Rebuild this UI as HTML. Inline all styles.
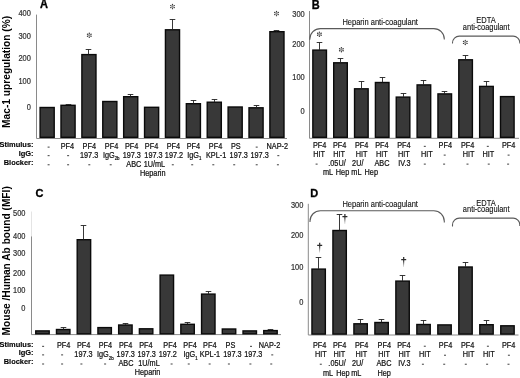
<!DOCTYPE html>
<html><head><meta charset="utf-8"><style>
html,body{margin:0;padding:0;background:#fff;}
body{width:520px;height:378px;overflow:hidden;font-family:"Liberation Sans", sans-serif;}
svg{display:block;filter:grayscale(1);}
</style></head><body>
<svg width="520" height="378" viewBox="0 0 520 378" font-family='"Liberation Sans", sans-serif'>
<defs><linearGradient id="dg" x1="0" y1="0" x2="0" y2="1"><stop offset="0" stop-color="#222"/><stop offset="0.45" stop-color="#333"/><stop offset="1" stop-color="#ccc"/></linearGradient></defs>
<rect width="520" height="378" fill="#fff"/>
<path d="M36.5 14.6V138.5H287" stroke="#8a8a8a" stroke-width="1" fill="none"/>
<path d="M309.5 11V138.3H519" stroke="#8a8a8a" stroke-width="1" fill="none"/>
<path d="M31.5 211.5V236.4" stroke="#e4e4e4" stroke-width="1" fill="none"/>
<path d="M31.5 236.4V334.6H281" stroke="#8a8a8a" stroke-width="1" fill="none"/>
<path d="M308.3 203.8V335H518.5" stroke="#8a8a8a" stroke-width="1" fill="none"/>
<rect x="40.10" y="107.50" width="14.10" height="29.80" fill="#383838" stroke="#0a0a0a" stroke-width="1.4"/>
<rect x="60.99" y="105.30" width="14.10" height="32.00" fill="#383838" stroke="#0a0a0a" stroke-width="1.4"/>
<line x1="68.50" y1="105.10" x2="68.50" y2="104.50" stroke="#222" stroke-width="0.9"/>
<line x1="65.70" y1="104.50" x2="71.30" y2="104.50" stroke="#222" stroke-width="0.9"/>
<rect x="81.88" y="54.60" width="14.10" height="82.70" fill="#383838" stroke="#0a0a0a" stroke-width="1.4"/>
<line x1="88.50" y1="54.40" x2="88.50" y2="49.50" stroke="#222" stroke-width="0.9"/>
<line x1="85.70" y1="49.50" x2="91.30" y2="49.50" stroke="#222" stroke-width="0.9"/>
<rect x="102.77" y="101.50" width="14.10" height="35.80" fill="#383838" stroke="#0a0a0a" stroke-width="1.4"/>
<rect x="123.66" y="96.70" width="14.10" height="40.60" fill="#383838" stroke="#0a0a0a" stroke-width="1.4"/>
<line x1="130.50" y1="96.50" x2="130.50" y2="94.50" stroke="#222" stroke-width="0.9"/>
<line x1="127.70" y1="94.50" x2="133.30" y2="94.50" stroke="#222" stroke-width="0.9"/>
<rect x="144.55" y="107.30" width="14.10" height="30.00" fill="#383838" stroke="#0a0a0a" stroke-width="1.4"/>
<rect x="165.44" y="29.80" width="14.10" height="107.50" fill="#383838" stroke="#0a0a0a" stroke-width="1.4"/>
<line x1="172.50" y1="29.60" x2="172.50" y2="19.50" stroke="#222" stroke-width="0.9"/>
<line x1="169.70" y1="19.50" x2="175.30" y2="19.50" stroke="#222" stroke-width="0.9"/>
<rect x="186.33" y="103.70" width="14.10" height="33.60" fill="#383838" stroke="#0a0a0a" stroke-width="1.4"/>
<line x1="193.50" y1="103.50" x2="193.50" y2="100.50" stroke="#222" stroke-width="0.9"/>
<line x1="190.70" y1="100.50" x2="196.30" y2="100.50" stroke="#222" stroke-width="0.9"/>
<rect x="207.22" y="102.20" width="14.10" height="35.10" fill="#383838" stroke="#0a0a0a" stroke-width="1.4"/>
<line x1="214.50" y1="102.00" x2="214.50" y2="99.50" stroke="#222" stroke-width="0.9"/>
<line x1="211.70" y1="99.50" x2="217.30" y2="99.50" stroke="#222" stroke-width="0.9"/>
<rect x="228.11" y="107.00" width="14.10" height="30.30" fill="#383838" stroke="#0a0a0a" stroke-width="1.4"/>
<rect x="249.00" y="107.80" width="14.10" height="29.50" fill="#383838" stroke="#0a0a0a" stroke-width="1.4"/>
<line x1="256.50" y1="107.60" x2="256.50" y2="105.50" stroke="#222" stroke-width="0.9"/>
<line x1="253.70" y1="105.50" x2="259.30" y2="105.50" stroke="#222" stroke-width="0.9"/>
<rect x="269.89" y="31.70" width="14.10" height="105.60" fill="#383838" stroke="#0a0a0a" stroke-width="1.4"/>
<line x1="276.50" y1="31.50" x2="276.50" y2="30.50" stroke="#222" stroke-width="0.9"/>
<line x1="273.70" y1="30.50" x2="279.30" y2="30.50" stroke="#222" stroke-width="0.9"/>
<rect x="312.85" y="50.10" width="13.60" height="87.20" fill="#383838" stroke="#0a0a0a" stroke-width="1.4"/>
<line x1="319.50" y1="49.90" x2="319.50" y2="42.50" stroke="#222" stroke-width="0.9"/>
<line x1="316.70" y1="42.50" x2="322.30" y2="42.50" stroke="#222" stroke-width="0.9"/>
<rect x="333.70" y="62.80" width="13.60" height="74.50" fill="#383838" stroke="#0a0a0a" stroke-width="1.4"/>
<line x1="340.50" y1="62.60" x2="340.50" y2="58.50" stroke="#222" stroke-width="0.9"/>
<line x1="337.70" y1="58.50" x2="343.30" y2="58.50" stroke="#222" stroke-width="0.9"/>
<rect x="354.55" y="88.80" width="13.60" height="48.50" fill="#383838" stroke="#0a0a0a" stroke-width="1.4"/>
<line x1="361.50" y1="88.60" x2="361.50" y2="81.50" stroke="#222" stroke-width="0.9"/>
<line x1="358.70" y1="81.50" x2="364.30" y2="81.50" stroke="#222" stroke-width="0.9"/>
<rect x="375.40" y="82.50" width="13.60" height="54.80" fill="#383838" stroke="#0a0a0a" stroke-width="1.4"/>
<line x1="382.50" y1="82.30" x2="382.50" y2="77.50" stroke="#222" stroke-width="0.9"/>
<line x1="379.70" y1="77.50" x2="385.30" y2="77.50" stroke="#222" stroke-width="0.9"/>
<rect x="396.25" y="97.10" width="13.60" height="40.20" fill="#383838" stroke="#0a0a0a" stroke-width="1.4"/>
<line x1="403.50" y1="96.90" x2="403.50" y2="93.50" stroke="#222" stroke-width="0.9"/>
<line x1="400.70" y1="93.50" x2="406.30" y2="93.50" stroke="#222" stroke-width="0.9"/>
<rect x="417.10" y="84.90" width="13.60" height="52.40" fill="#383838" stroke="#0a0a0a" stroke-width="1.4"/>
<line x1="423.50" y1="84.70" x2="423.50" y2="80.50" stroke="#222" stroke-width="0.9"/>
<line x1="420.70" y1="80.50" x2="426.30" y2="80.50" stroke="#222" stroke-width="0.9"/>
<rect x="437.95" y="93.90" width="13.60" height="43.40" fill="#383838" stroke="#0a0a0a" stroke-width="1.4"/>
<line x1="444.50" y1="93.70" x2="444.50" y2="91.50" stroke="#222" stroke-width="0.9"/>
<line x1="441.70" y1="91.50" x2="447.30" y2="91.50" stroke="#222" stroke-width="0.9"/>
<rect x="458.80" y="59.80" width="13.60" height="77.50" fill="#383838" stroke="#0a0a0a" stroke-width="1.4"/>
<line x1="465.50" y1="59.60" x2="465.50" y2="55.50" stroke="#222" stroke-width="0.9"/>
<line x1="462.70" y1="55.50" x2="468.30" y2="55.50" stroke="#222" stroke-width="0.9"/>
<rect x="479.65" y="86.40" width="13.60" height="50.90" fill="#383838" stroke="#0a0a0a" stroke-width="1.4"/>
<line x1="486.50" y1="86.20" x2="486.50" y2="81.50" stroke="#222" stroke-width="0.9"/>
<line x1="483.70" y1="81.50" x2="489.30" y2="81.50" stroke="#222" stroke-width="0.9"/>
<rect x="500.50" y="96.60" width="13.60" height="40.70" fill="#383838" stroke="#0a0a0a" stroke-width="1.4"/>
<rect x="35.75" y="330.90" width="13.45" height="2.90" fill="#383838" stroke="#0a0a0a" stroke-width="1.4"/>
<rect x="56.48" y="329.50" width="13.45" height="4.30" fill="#383838" stroke="#0a0a0a" stroke-width="1.4"/>
<line x1="63.50" y1="329.30" x2="63.50" y2="327.50" stroke="#222" stroke-width="0.9"/>
<line x1="60.70" y1="327.50" x2="66.30" y2="327.50" stroke="#222" stroke-width="0.9"/>
<rect x="77.20" y="239.70" width="13.45" height="94.10" fill="#383838" stroke="#0a0a0a" stroke-width="1.4"/>
<line x1="83.50" y1="239.50" x2="83.50" y2="225.50" stroke="#222" stroke-width="0.9"/>
<line x1="80.70" y1="225.50" x2="86.30" y2="225.50" stroke="#222" stroke-width="0.9"/>
<rect x="97.93" y="327.60" width="13.45" height="6.20" fill="#383838" stroke="#0a0a0a" stroke-width="1.4"/>
<rect x="118.66" y="325.00" width="13.45" height="8.80" fill="#383838" stroke="#0a0a0a" stroke-width="1.4"/>
<line x1="125.50" y1="324.80" x2="125.50" y2="323.50" stroke="#222" stroke-width="0.9"/>
<line x1="122.70" y1="323.50" x2="128.30" y2="323.50" stroke="#222" stroke-width="0.9"/>
<rect x="139.38" y="328.80" width="13.45" height="5.00" fill="#383838" stroke="#0a0a0a" stroke-width="1.4"/>
<rect x="160.11" y="275.10" width="13.45" height="58.70" fill="#383838" stroke="#0a0a0a" stroke-width="1.4"/>
<rect x="180.84" y="324.30" width="13.45" height="9.50" fill="#383838" stroke="#0a0a0a" stroke-width="1.4"/>
<line x1="187.50" y1="324.10" x2="187.50" y2="322.50" stroke="#222" stroke-width="0.9"/>
<line x1="184.70" y1="322.50" x2="190.30" y2="322.50" stroke="#222" stroke-width="0.9"/>
<rect x="201.57" y="294.10" width="13.45" height="39.70" fill="#383838" stroke="#0a0a0a" stroke-width="1.4"/>
<line x1="208.50" y1="293.90" x2="208.50" y2="291.50" stroke="#222" stroke-width="0.9"/>
<line x1="205.70" y1="291.50" x2="211.30" y2="291.50" stroke="#222" stroke-width="0.9"/>
<rect x="222.29" y="329.00" width="13.45" height="4.80" fill="#383838" stroke="#0a0a0a" stroke-width="1.4"/>
<rect x="243.02" y="330.90" width="13.45" height="2.90" fill="#383838" stroke="#0a0a0a" stroke-width="1.4"/>
<rect x="263.75" y="330.60" width="13.45" height="3.20" fill="#383838" stroke="#0a0a0a" stroke-width="1.4"/>
<line x1="270.50" y1="330.40" x2="270.50" y2="329.50" stroke="#222" stroke-width="0.9"/>
<line x1="267.70" y1="329.50" x2="273.30" y2="329.50" stroke="#222" stroke-width="0.9"/>
<rect x="311.95" y="269.10" width="13.40" height="65.00" fill="#383838" stroke="#0a0a0a" stroke-width="1.4"/>
<line x1="318.50" y1="268.90" x2="318.50" y2="257.50" stroke="#222" stroke-width="0.9"/>
<line x1="315.70" y1="257.50" x2="321.30" y2="257.50" stroke="#222" stroke-width="0.9"/>
<rect x="332.93" y="230.50" width="13.40" height="103.60" fill="#383838" stroke="#0a0a0a" stroke-width="1.4"/>
<line x1="339.50" y1="230.30" x2="339.50" y2="214.50" stroke="#222" stroke-width="0.9"/>
<line x1="336.70" y1="214.50" x2="342.30" y2="214.50" stroke="#222" stroke-width="0.9"/>
<rect x="353.91" y="323.80" width="13.40" height="10.30" fill="#383838" stroke="#0a0a0a" stroke-width="1.4"/>
<line x1="360.50" y1="323.60" x2="360.50" y2="319.50" stroke="#222" stroke-width="0.9"/>
<line x1="357.70" y1="319.50" x2="363.30" y2="319.50" stroke="#222" stroke-width="0.9"/>
<rect x="374.89" y="322.50" width="13.40" height="11.60" fill="#383838" stroke="#0a0a0a" stroke-width="1.4"/>
<line x1="381.50" y1="322.30" x2="381.50" y2="319.50" stroke="#222" stroke-width="0.9"/>
<line x1="378.70" y1="319.50" x2="384.30" y2="319.50" stroke="#222" stroke-width="0.9"/>
<rect x="395.87" y="281.10" width="13.40" height="53.00" fill="#383838" stroke="#0a0a0a" stroke-width="1.4"/>
<line x1="402.50" y1="280.90" x2="402.50" y2="275.50" stroke="#222" stroke-width="0.9"/>
<line x1="399.70" y1="275.50" x2="405.30" y2="275.50" stroke="#222" stroke-width="0.9"/>
<rect x="416.85" y="324.50" width="13.40" height="9.60" fill="#383838" stroke="#0a0a0a" stroke-width="1.4"/>
<line x1="423.50" y1="324.30" x2="423.50" y2="320.50" stroke="#222" stroke-width="0.9"/>
<line x1="420.70" y1="320.50" x2="426.30" y2="320.50" stroke="#222" stroke-width="0.9"/>
<rect x="437.83" y="324.90" width="13.40" height="9.20" fill="#383838" stroke="#0a0a0a" stroke-width="1.4"/>
<rect x="458.81" y="267.00" width="13.40" height="67.10" fill="#383838" stroke="#0a0a0a" stroke-width="1.4"/>
<line x1="465.50" y1="266.80" x2="465.50" y2="262.50" stroke="#222" stroke-width="0.9"/>
<line x1="462.70" y1="262.50" x2="468.30" y2="262.50" stroke="#222" stroke-width="0.9"/>
<rect x="479.79" y="324.70" width="13.40" height="9.40" fill="#383838" stroke="#0a0a0a" stroke-width="1.4"/>
<line x1="486.50" y1="324.50" x2="486.50" y2="320.50" stroke="#222" stroke-width="0.9"/>
<line x1="483.70" y1="320.50" x2="489.30" y2="320.50" stroke="#222" stroke-width="0.9"/>
<rect x="500.77" y="325.80" width="13.40" height="8.30" fill="#383838" stroke="#0a0a0a" stroke-width="1.4"/>
<text transform="translate(40.00 8.30) scale(1 1.08)" font-size="11" text-anchor="start" font-weight="bold" fill="#000" stroke="#000" stroke-width="0.3" >A</text>
<text transform="translate(311.70 8.50) scale(1 1.08)" font-size="11" text-anchor="start" font-weight="bold" fill="#000" stroke="#000" stroke-width="0.3" >B</text>
<text transform="translate(35.60 197.20) scale(1 1.0)" font-size="11" text-anchor="start" font-weight="bold" fill="#000" stroke="#000" stroke-width="0.3" >C</text>
<text transform="translate(310.30 197.10) scale(1 1.0)" font-size="11" text-anchor="start" font-weight="bold" fill="#000" stroke="#000" stroke-width="0.3" >D</text>
<text transform="translate(30.80 15.70) scale(1 1.12)" font-size="7.45" text-anchor="end" font-weight="normal" fill="#333" stroke="#333" stroke-width="0.2" >400</text>
<text transform="translate(30.80 38.60) scale(1 1.12)" font-size="7.45" text-anchor="end" font-weight="normal" fill="#333" stroke="#333" stroke-width="0.2" >300</text>
<text transform="translate(30.80 61.10) scale(1 1.12)" font-size="7.45" text-anchor="end" font-weight="normal" fill="#333" stroke="#333" stroke-width="0.2" >200</text>
<text transform="translate(30.80 83.90) scale(1 1.12)" font-size="7.45" text-anchor="end" font-weight="normal" fill="#333" stroke="#333" stroke-width="0.2" >100</text>
<text transform="translate(30.80 110.00) scale(1 1.12)" font-size="7.45" text-anchor="end" font-weight="normal" fill="#333" stroke="#333" stroke-width="0.2" >0</text>
<text transform="translate(304.70 17.40) scale(1 1.12)" font-size="7.45" text-anchor="end" font-weight="normal" fill="#333" stroke="#333" stroke-width="0.2" >300</text>
<text transform="translate(304.70 47.20) scale(1 1.12)" font-size="7.45" text-anchor="end" font-weight="normal" fill="#333" stroke="#333" stroke-width="0.2" >200</text>
<text transform="translate(304.70 79.70) scale(1 1.12)" font-size="7.45" text-anchor="end" font-weight="normal" fill="#333" stroke="#333" stroke-width="0.2" >100</text>
<text transform="translate(304.70 113.80) scale(1 1.12)" font-size="7.45" text-anchor="end" font-weight="normal" fill="#333" stroke="#333" stroke-width="0.2" >0</text>
<text transform="translate(25.50 215.90) scale(1 1.12)" font-size="7.45" text-anchor="end" font-weight="normal" fill="#333" stroke="#333" stroke-width="0.2" >500</text>
<text transform="translate(25.50 239.00) scale(1 1.12)" font-size="7.45" text-anchor="end" font-weight="normal" fill="#333" stroke="#333" stroke-width="0.2" >400</text>
<text transform="translate(25.50 255.50) scale(1 1.12)" font-size="7.45" text-anchor="end" font-weight="normal" fill="#333" stroke="#333" stroke-width="0.2" >300</text>
<text transform="translate(25.50 275.70) scale(1 1.12)" font-size="7.45" text-anchor="end" font-weight="normal" fill="#333" stroke="#333" stroke-width="0.2" >200</text>
<text transform="translate(25.50 292.70) scale(1 1.12)" font-size="7.45" text-anchor="end" font-weight="normal" fill="#333" stroke="#333" stroke-width="0.2" >100</text>
<text transform="translate(25.50 311.20) scale(1 1.12)" font-size="7.45" text-anchor="end" font-weight="normal" fill="#333" stroke="#333" stroke-width="0.2" >0</text>
<text transform="translate(303.30 208.10) scale(1 1.12)" font-size="7.45" text-anchor="end" font-weight="normal" fill="#333" stroke="#333" stroke-width="0.2" >300</text>
<text transform="translate(303.30 238.40) scale(1 1.12)" font-size="7.45" text-anchor="end" font-weight="normal" fill="#333" stroke="#333" stroke-width="0.2" >200</text>
<text transform="translate(303.30 270.30) scale(1 1.12)" font-size="7.45" text-anchor="end" font-weight="normal" fill="#333" stroke="#333" stroke-width="0.2" >100</text>
<text transform="translate(303.30 304.50) scale(1 1.12)" font-size="7.45" text-anchor="end" font-weight="normal" fill="#333" stroke="#333" stroke-width="0.2" >0</text>
<text transform="translate(9.7 71.85) rotate(-90) scale(1 1.08)" font-size="10.2" font-weight="bold" text-anchor="middle" fill="#000">Mac-1 upregulation (%)</text>
<text transform="translate(9.9 260.85) rotate(-90) scale(1 1.08)" font-size="10.17" font-weight="bold" text-anchor="middle" fill="#000">Mouse /Human Ab bound (MFI)</text>
<text transform="translate(33.50 147.40) scale(1 1.0)" font-size="7.44" text-anchor="end" font-weight="bold" fill="#000" stroke="#000" stroke-width="0.12" >Stimulus:</text>
<text transform="translate(33.50 156.30) scale(1 1.0)" font-size="7.44" text-anchor="end" font-weight="bold" fill="#000" stroke="#000" stroke-width="0.12" >IgG:</text>
<text transform="translate(33.50 165.30) scale(1 1.0)" font-size="7.44" text-anchor="end" font-weight="bold" fill="#000" stroke="#000" stroke-width="0.12" >Blocker:</text>
<text transform="translate(33.50 346.50) scale(1 1.0)" font-size="7.44" text-anchor="end" font-weight="bold" fill="#000" stroke="#000" stroke-width="0.12" >Stimulus:</text>
<text transform="translate(33.50 355.40) scale(1 1.0)" font-size="7.44" text-anchor="end" font-weight="bold" fill="#000" stroke="#000" stroke-width="0.12" >IgG:</text>
<text transform="translate(33.50 364.40) scale(1 1.0)" font-size="7.44" text-anchor="end" font-weight="bold" fill="#000" stroke="#000" stroke-width="0.12" >Blocker:</text>
<rect x="47.60" y="146.65" width="2.0" height="0.9" fill="#2a2a2a"/>
<text transform="translate(67.40 148.90) scale(1 1.12)" font-size="7.3" text-anchor="middle" font-weight="normal" fill="#111" stroke="#111" stroke-width="0.2" >PF4</text>
<text transform="translate(89.25 148.90) scale(1 1.12)" font-size="7.3" text-anchor="middle" font-weight="normal" fill="#111" stroke="#111" stroke-width="0.2" >PF4</text>
<text transform="translate(111.50 148.90) scale(1 1.12)" font-size="7.3" text-anchor="middle" font-weight="normal" fill="#111" stroke="#111" stroke-width="0.2" >PF4</text>
<text transform="translate(131.60 148.90) scale(1 1.12)" font-size="7.3" text-anchor="middle" font-weight="normal" fill="#111" stroke="#111" stroke-width="0.2" >PF4</text>
<text transform="translate(151.50 148.90) scale(1 1.12)" font-size="7.3" text-anchor="middle" font-weight="normal" fill="#111" stroke="#111" stroke-width="0.2" >PF4</text>
<text transform="translate(173.40 148.90) scale(1 1.12)" font-size="7.3" text-anchor="middle" font-weight="normal" fill="#111" stroke="#111" stroke-width="0.2" >PF4</text>
<text transform="translate(193.40 148.90) scale(1 1.12)" font-size="7.3" text-anchor="middle" font-weight="normal" fill="#111" stroke="#111" stroke-width="0.2" >PF4</text>
<text transform="translate(215.50 148.90) scale(1 1.12)" font-size="7.3" text-anchor="middle" font-weight="normal" fill="#111" stroke="#111" stroke-width="0.2" >PF4</text>
<text transform="translate(235.80 148.90) scale(1 1.12)" font-size="7.3" text-anchor="middle" font-weight="normal" fill="#111" stroke="#111" stroke-width="0.2" >PS</text>
<rect x="255.70" y="146.65" width="2.0" height="0.9" fill="#2a2a2a"/>
<text transform="translate(277.30 148.90) scale(1 1.12)" font-size="7.3" text-anchor="middle" font-weight="normal" fill="#111" stroke="#111" stroke-width="0.2" >NAP-2</text>
<rect x="47.60" y="155.25" width="2.0" height="0.9" fill="#2a2a2a"/>
<rect x="67.10" y="155.25" width="2.0" height="0.9" fill="#2a2a2a"/>
<text transform="translate(89.10 157.50) scale(1 1.12)" font-size="7.3" text-anchor="middle" font-weight="normal" fill="#111" stroke="#111" stroke-width="0.2" >197.3</text>
<text transform="translate(131.80 157.50) scale(1 1.12)" font-size="7.3" text-anchor="middle" font-weight="normal" fill="#111" stroke="#111" stroke-width="0.2" >197.3</text>
<text transform="translate(153.50 157.50) scale(1 1.12)" font-size="7.3" text-anchor="middle" font-weight="normal" fill="#111" stroke="#111" stroke-width="0.2" >197.3</text>
<text transform="translate(174.00 157.50) scale(1 1.12)" font-size="7.3" text-anchor="middle" font-weight="normal" fill="#111" stroke="#111" stroke-width="0.2" >197.2</text>
<text transform="translate(216.10 157.50) scale(1 1.12)" font-size="7.3" text-anchor="middle" font-weight="normal" fill="#111" stroke="#111" stroke-width="0.2" >KPL-1</text>
<text transform="translate(238.75 157.50) scale(1 1.12)" font-size="7.3" text-anchor="middle" font-weight="normal" fill="#111" stroke="#111" stroke-width="0.2" >197.3</text>
<text transform="translate(259.60 157.50) scale(1 1.12)" font-size="7.3" text-anchor="middle" font-weight="normal" fill="#111" stroke="#111" stroke-width="0.2" >197.3</text>
<rect x="277.30" y="155.25" width="2.0" height="0.9" fill="#2a2a2a"/>
<rect x="47.60" y="164.35" width="2.0" height="0.9" fill="#2a2a2a"/>
<rect x="67.10" y="164.35" width="2.0" height="0.9" fill="#2a2a2a"/>
<rect x="88.30" y="164.35" width="2.0" height="0.9" fill="#2a2a2a"/>
<rect x="109.70" y="164.35" width="2.0" height="0.9" fill="#2a2a2a"/>
<text transform="translate(133.80 166.60) scale(1 1.12)" font-size="7.3" text-anchor="middle" font-weight="normal" fill="#111" stroke="#111" stroke-width="0.2" >ABC</text>
<text transform="translate(154.40 166.60) scale(1 1.12)" font-size="7.3" text-anchor="middle" font-weight="normal" fill="#111" stroke="#111" stroke-width="0.2" >1U/mL</text>
<rect x="171.80" y="164.35" width="2.0" height="0.9" fill="#2a2a2a"/>
<rect x="191.20" y="164.35" width="2.0" height="0.9" fill="#2a2a2a"/>
<rect x="212.30" y="164.35" width="2.0" height="0.9" fill="#2a2a2a"/>
<rect x="233.20" y="164.35" width="2.0" height="0.9" fill="#2a2a2a"/>
<rect x="255.70" y="164.35" width="2.0" height="0.9" fill="#2a2a2a"/>
<rect x="276.90" y="164.35" width="2.0" height="0.9" fill="#2a2a2a"/>
<text transform="translate(102.90 157.50) scale(1 1.12)" font-size="7.3" text-anchor="start" font-weight="normal" fill="#111" stroke="#111" stroke-width="0.2" >IgG<tspan font-size="4.4" dy="2.5">2b</tspan></text>
<text transform="translate(187.25 157.50) scale(1 1.12)" font-size="7.3" text-anchor="start" font-weight="normal" fill="#111" stroke="#111" stroke-width="0.2" >IgG<tspan font-size="4.3" dy="2.5">1</tspan></text>
<text transform="translate(152.70 175.70) scale(1 1.12)" font-size="7.3" text-anchor="middle" font-weight="normal" fill="#111" stroke="#111" stroke-width="0.2" >Heparin</text>
<rect x="42.10" y="345.85" width="2.0" height="0.9" fill="#2a2a2a"/>
<text transform="translate(63.70 348.10) scale(1 1.12)" font-size="7.3" text-anchor="middle" font-weight="normal" fill="#111" stroke="#111" stroke-width="0.2" >PF4</text>
<text transform="translate(83.70 348.10) scale(1 1.12)" font-size="7.3" text-anchor="middle" font-weight="normal" fill="#111" stroke="#111" stroke-width="0.2" >PF4</text>
<text transform="translate(105.40 348.10) scale(1 1.12)" font-size="7.3" text-anchor="middle" font-weight="normal" fill="#111" stroke="#111" stroke-width="0.2" >PF4</text>
<text transform="translate(125.60 348.10) scale(1 1.12)" font-size="7.3" text-anchor="middle" font-weight="normal" fill="#111" stroke="#111" stroke-width="0.2" >PF4</text>
<text transform="translate(145.90 348.10) scale(1 1.12)" font-size="7.3" text-anchor="middle" font-weight="normal" fill="#111" stroke="#111" stroke-width="0.2" >PF4</text>
<text transform="translate(170.00 348.10) scale(1 1.12)" font-size="7.3" text-anchor="middle" font-weight="normal" fill="#111" stroke="#111" stroke-width="0.2" >PF4</text>
<text transform="translate(190.00 348.10) scale(1 1.12)" font-size="7.3" text-anchor="middle" font-weight="normal" fill="#111" stroke="#111" stroke-width="0.2" >PF4</text>
<text transform="translate(209.80 348.10) scale(1 1.12)" font-size="7.3" text-anchor="middle" font-weight="normal" fill="#111" stroke="#111" stroke-width="0.2" >PF4</text>
<text transform="translate(230.40 348.10) scale(1 1.12)" font-size="7.3" text-anchor="middle" font-weight="normal" fill="#111" stroke="#111" stroke-width="0.2" >PS</text>
<rect x="250.00" y="345.85" width="2.0" height="0.9" fill="#2a2a2a"/>
<text transform="translate(269.50 348.10) scale(1 1.12)" font-size="7.3" text-anchor="middle" font-weight="normal" fill="#111" stroke="#111" stroke-width="0.2" >NAP-2</text>
<rect x="42.10" y="354.45" width="2.0" height="0.9" fill="#2a2a2a"/>
<rect x="61.10" y="354.45" width="2.0" height="0.9" fill="#2a2a2a"/>
<text transform="translate(83.50 356.70) scale(1 1.12)" font-size="7.3" text-anchor="middle" font-weight="normal" fill="#111" stroke="#111" stroke-width="0.2" >197.3</text>
<text transform="translate(125.75 356.70) scale(1 1.12)" font-size="7.3" text-anchor="middle" font-weight="normal" fill="#111" stroke="#111" stroke-width="0.2" >197.3</text>
<text transform="translate(146.70 356.70) scale(1 1.12)" font-size="7.3" text-anchor="middle" font-weight="normal" fill="#111" stroke="#111" stroke-width="0.2" >197.3</text>
<text transform="translate(167.80 356.70) scale(1 1.12)" font-size="7.3" text-anchor="middle" font-weight="normal" fill="#111" stroke="#111" stroke-width="0.2" >197.2</text>
<text transform="translate(210.00 356.70) scale(1 1.12)" font-size="7.3" text-anchor="middle" font-weight="normal" fill="#111" stroke="#111" stroke-width="0.2" >KPL-1</text>
<text transform="translate(232.40 356.70) scale(1 1.12)" font-size="7.3" text-anchor="middle" font-weight="normal" fill="#111" stroke="#111" stroke-width="0.2" >197.3</text>
<text transform="translate(253.30 356.70) scale(1 1.12)" font-size="7.3" text-anchor="middle" font-weight="normal" fill="#111" stroke="#111" stroke-width="0.2" >197.3</text>
<rect x="271.25" y="354.45" width="2.0" height="0.9" fill="#2a2a2a"/>
<rect x="42.10" y="363.55" width="2.0" height="0.9" fill="#2a2a2a"/>
<rect x="61.10" y="363.55" width="2.0" height="0.9" fill="#2a2a2a"/>
<rect x="80.40" y="363.55" width="2.0" height="0.9" fill="#2a2a2a"/>
<rect x="104.10" y="363.55" width="2.0" height="0.9" fill="#2a2a2a"/>
<text transform="translate(125.90 365.80) scale(1 1.12)" font-size="7.3" text-anchor="middle" font-weight="normal" fill="#111" stroke="#111" stroke-width="0.2" >ABC</text>
<text transform="translate(149.00 365.80) scale(1 1.12)" font-size="7.3" text-anchor="middle" font-weight="normal" fill="#111" stroke="#111" stroke-width="0.2" >1U/mL</text>
<rect x="170.60" y="363.55" width="2.0" height="0.9" fill="#2a2a2a"/>
<rect x="187.75" y="363.55" width="2.0" height="0.9" fill="#2a2a2a"/>
<rect x="208.65" y="363.55" width="2.0" height="0.9" fill="#2a2a2a"/>
<rect x="227.90" y="363.55" width="2.0" height="0.9" fill="#2a2a2a"/>
<rect x="249.40" y="363.55" width="2.0" height="0.9" fill="#2a2a2a"/>
<rect x="270.25" y="363.55" width="2.0" height="0.9" fill="#2a2a2a"/>
<text transform="translate(97.00 356.70) scale(1 1.12)" font-size="7.3" text-anchor="start" font-weight="normal" fill="#111" stroke="#111" stroke-width="0.2" >IgG<tspan font-size="4.4" dy="2.5">2b</tspan></text>
<text transform="translate(183.50 356.70) scale(1 1.12)" font-size="7.3" text-anchor="start" font-weight="normal" fill="#111" stroke="#111" stroke-width="0.2" >IgG<tspan font-size="4.3" dy="2.5">1</tspan></text>
<text transform="translate(147.55 375.00) scale(1 1.12)" font-size="7.3" text-anchor="middle" font-weight="normal" fill="#111" stroke="#111" stroke-width="0.2" >Heparin</text>
<text transform="translate(319.60 148.10) scale(1 1.12)" font-size="7.3" text-anchor="middle" font-weight="normal" fill="#111" stroke="#111" stroke-width="0.2" >PF4</text>
<text transform="translate(339.60 148.10) scale(1 1.12)" font-size="7.3" text-anchor="middle" font-weight="normal" fill="#111" stroke="#111" stroke-width="0.2" >PF4</text>
<text transform="translate(361.60 148.10) scale(1 1.12)" font-size="7.3" text-anchor="middle" font-weight="normal" fill="#111" stroke="#111" stroke-width="0.2" >PF4</text>
<text transform="translate(381.90 148.10) scale(1 1.12)" font-size="7.3" text-anchor="middle" font-weight="normal" fill="#111" stroke="#111" stroke-width="0.2" >PF4</text>
<text transform="translate(403.90 148.10) scale(1 1.12)" font-size="7.3" text-anchor="middle" font-weight="normal" fill="#111" stroke="#111" stroke-width="0.2" >PF4</text>
<rect x="423.80" y="145.85" width="2.0" height="0.9" fill="#2a2a2a"/>
<text transform="translate(445.30 148.10) scale(1 1.12)" font-size="7.3" text-anchor="middle" font-weight="normal" fill="#111" stroke="#111" stroke-width="0.2" >PF4</text>
<text transform="translate(467.60 148.10) scale(1 1.12)" font-size="7.3" text-anchor="middle" font-weight="normal" fill="#111" stroke="#111" stroke-width="0.2" >PF4</text>
<rect x="486.80" y="145.85" width="2.0" height="0.9" fill="#2a2a2a"/>
<text transform="translate(508.60 148.10) scale(1 1.12)" font-size="7.3" text-anchor="middle" font-weight="normal" fill="#111" stroke="#111" stroke-width="0.2" >PF4</text>
<text transform="translate(319.10 156.90) scale(1 1.12)" font-size="7.3" text-anchor="middle" font-weight="normal" fill="#111" stroke="#111" stroke-width="0.2" >HIT</text>
<text transform="translate(339.10 156.90) scale(1 1.12)" font-size="7.3" text-anchor="middle" font-weight="normal" fill="#111" stroke="#111" stroke-width="0.2" >HIT</text>
<text transform="translate(361.50 156.90) scale(1 1.12)" font-size="7.3" text-anchor="middle" font-weight="normal" fill="#111" stroke="#111" stroke-width="0.2" >HIT</text>
<text transform="translate(381.75 156.90) scale(1 1.12)" font-size="7.3" text-anchor="middle" font-weight="normal" fill="#111" stroke="#111" stroke-width="0.2" >HIT</text>
<text transform="translate(403.90 156.90) scale(1 1.12)" font-size="7.3" text-anchor="middle" font-weight="normal" fill="#111" stroke="#111" stroke-width="0.2" >HIT</text>
<text transform="translate(426.75 156.90) scale(1 1.12)" font-size="7.3" text-anchor="middle" font-weight="normal" fill="#111" stroke="#111" stroke-width="0.2" >HIT</text>
<rect x="443.70" y="154.65" width="2.0" height="0.9" fill="#2a2a2a"/>
<text transform="translate(468.50 156.90) scale(1 1.12)" font-size="7.3" text-anchor="middle" font-weight="normal" fill="#111" stroke="#111" stroke-width="0.2" >HIT</text>
<text transform="translate(488.40 156.90) scale(1 1.12)" font-size="7.3" text-anchor="middle" font-weight="normal" fill="#111" stroke="#111" stroke-width="0.2" >HIT</text>
<rect x="507.60" y="154.65" width="2.0" height="0.9" fill="#2a2a2a"/>
<rect x="315.60" y="163.65" width="2.0" height="0.9" fill="#2a2a2a"/>
<text transform="translate(337.00 165.90) scale(1 1.12)" font-size="7.3" text-anchor="middle" font-weight="normal" fill="#111" stroke="#111" stroke-width="0.2" >.05U/</text>
<text transform="translate(357.75 165.90) scale(1 1.12)" font-size="7.3" text-anchor="middle" font-weight="normal" fill="#111" stroke="#111" stroke-width="0.2" >2U/</text>
<text transform="translate(381.90 165.90) scale(1 1.12)" font-size="7.3" text-anchor="middle" font-weight="normal" fill="#111" stroke="#111" stroke-width="0.2" >ABC</text>
<text transform="translate(404.40 165.90) scale(1 1.12)" font-size="7.3" text-anchor="middle" font-weight="normal" fill="#111" stroke="#111" stroke-width="0.2" >IV.3</text>
<rect x="423.80" y="163.65" width="2.0" height="0.9" fill="#2a2a2a"/>
<rect x="443.10" y="163.65" width="2.0" height="0.9" fill="#2a2a2a"/>
<rect x="466.50" y="163.65" width="2.0" height="0.9" fill="#2a2a2a"/>
<rect x="487.75" y="163.65" width="2.0" height="0.9" fill="#2a2a2a"/>
<rect x="507.10" y="163.65" width="2.0" height="0.9" fill="#2a2a2a"/>
<text transform="translate(322.90 175.10) scale(1 1.12)" font-size="7.3" text-anchor="start" font-weight="normal" fill="#111" stroke="#111" stroke-width="0.2" >mL</text>
<text transform="translate(335.80 175.10) scale(1 1.12)" font-size="7.3" text-anchor="start" font-weight="normal" fill="#111" stroke="#111" stroke-width="0.2" >Hep</text>
<text transform="translate(351.30 175.10) scale(1 1.12)" font-size="7.3" text-anchor="start" font-weight="normal" fill="#111" stroke="#111" stroke-width="0.2" >mL</text>
<text transform="translate(364.60 175.10) scale(1 1.12)" font-size="7.3" text-anchor="start" font-weight="normal" fill="#111" stroke="#111" stroke-width="0.2" >Hep</text>
<text transform="translate(319.60 348.00) scale(1 1.12)" font-size="7.3" text-anchor="middle" font-weight="normal" fill="#111" stroke="#111" stroke-width="0.2" >PF4</text>
<text transform="translate(339.60 348.00) scale(1 1.12)" font-size="7.3" text-anchor="middle" font-weight="normal" fill="#111" stroke="#111" stroke-width="0.2" >PF4</text>
<text transform="translate(361.60 348.00) scale(1 1.12)" font-size="7.3" text-anchor="middle" font-weight="normal" fill="#111" stroke="#111" stroke-width="0.2" >PF4</text>
<text transform="translate(384.25 348.00) scale(1 1.12)" font-size="7.3" text-anchor="middle" font-weight="normal" fill="#111" stroke="#111" stroke-width="0.2" >PF4</text>
<text transform="translate(403.90 348.00) scale(1 1.12)" font-size="7.3" text-anchor="middle" font-weight="normal" fill="#111" stroke="#111" stroke-width="0.2" >PF4</text>
<rect x="423.80" y="345.75" width="2.0" height="0.9" fill="#2a2a2a"/>
<text transform="translate(445.50 348.00) scale(1 1.12)" font-size="7.3" text-anchor="middle" font-weight="normal" fill="#111" stroke="#111" stroke-width="0.2" >PF4</text>
<text transform="translate(467.60 348.00) scale(1 1.12)" font-size="7.3" text-anchor="middle" font-weight="normal" fill="#111" stroke="#111" stroke-width="0.2" >PF4</text>
<rect x="486.90" y="345.75" width="2.0" height="0.9" fill="#2a2a2a"/>
<text transform="translate(508.60 348.00) scale(1 1.12)" font-size="7.3" text-anchor="middle" font-weight="normal" fill="#111" stroke="#111" stroke-width="0.2" >PF4</text>
<text transform="translate(320.80 357.00) scale(1 1.12)" font-size="7.3" text-anchor="middle" font-weight="normal" fill="#111" stroke="#111" stroke-width="0.2" >HIT</text>
<text transform="translate(339.25 357.00) scale(1 1.12)" font-size="7.3" text-anchor="middle" font-weight="normal" fill="#111" stroke="#111" stroke-width="0.2" >HIT</text>
<text transform="translate(361.40 357.00) scale(1 1.12)" font-size="7.3" text-anchor="middle" font-weight="normal" fill="#111" stroke="#111" stroke-width="0.2" >HIT</text>
<text transform="translate(384.10 357.00) scale(1 1.12)" font-size="7.3" text-anchor="middle" font-weight="normal" fill="#111" stroke="#111" stroke-width="0.2" >HIT</text>
<text transform="translate(404.25 357.00) scale(1 1.12)" font-size="7.3" text-anchor="middle" font-weight="normal" fill="#111" stroke="#111" stroke-width="0.2" >HIT</text>
<text transform="translate(424.80 357.00) scale(1 1.12)" font-size="7.3" text-anchor="middle" font-weight="normal" fill="#111" stroke="#111" stroke-width="0.2" >HIT</text>
<rect x="444.00" y="354.75" width="2.0" height="0.9" fill="#2a2a2a"/>
<text transform="translate(468.60 357.00) scale(1 1.12)" font-size="7.3" text-anchor="middle" font-weight="normal" fill="#111" stroke="#111" stroke-width="0.2" >HIT</text>
<text transform="translate(488.90 357.00) scale(1 1.12)" font-size="7.3" text-anchor="middle" font-weight="normal" fill="#111" stroke="#111" stroke-width="0.2" >HIT</text>
<rect x="507.90" y="354.75" width="2.0" height="0.9" fill="#2a2a2a"/>
<rect x="319.80" y="363.75" width="2.0" height="0.9" fill="#2a2a2a"/>
<text transform="translate(337.10 366.00) scale(1 1.12)" font-size="7.3" text-anchor="middle" font-weight="normal" fill="#111" stroke="#111" stroke-width="0.2" >.05U/</text>
<text transform="translate(357.60 366.00) scale(1 1.12)" font-size="7.3" text-anchor="middle" font-weight="normal" fill="#111" stroke="#111" stroke-width="0.2" >2U/</text>
<text transform="translate(383.90 366.00) scale(1 1.12)" font-size="7.3" text-anchor="middle" font-weight="normal" fill="#111" stroke="#111" stroke-width="0.2" >ABC</text>
<text transform="translate(404.40 366.00) scale(1 1.12)" font-size="7.3" text-anchor="middle" font-weight="normal" fill="#111" stroke="#111" stroke-width="0.2" >IV.3</text>
<rect x="421.90" y="363.75" width="2.0" height="0.9" fill="#2a2a2a"/>
<rect x="443.20" y="363.75" width="2.0" height="0.9" fill="#2a2a2a"/>
<rect x="464.80" y="363.75" width="2.0" height="0.9" fill="#2a2a2a"/>
<rect x="486.10" y="363.75" width="2.0" height="0.9" fill="#2a2a2a"/>
<rect x="507.50" y="363.75" width="2.0" height="0.9" fill="#2a2a2a"/>
<text transform="translate(322.90 376.00) scale(1 1.12)" font-size="7.3" text-anchor="start" font-weight="normal" fill="#111" stroke="#111" stroke-width="0.2" >mL</text>
<text transform="translate(336.20 376.00) scale(1 1.12)" font-size="7.3" text-anchor="start" font-weight="normal" fill="#111" stroke="#111" stroke-width="0.2" >Hep</text>
<text transform="translate(351.20 376.00) scale(1 1.12)" font-size="7.3" text-anchor="start" font-weight="normal" fill="#111" stroke="#111" stroke-width="0.2" >mL</text>
<text transform="translate(384.10 376.00) scale(1 1.12)" font-size="7.3" text-anchor="middle" font-weight="normal" fill="#111" stroke="#111" stroke-width="0.2" >Hep</text>
<path d="M309.8 39.7V39.2A10.6 10.6 0 0 1 320.4 28.6H433.8A10.5 10.5 0 0 1 444.3 39.1V39.6" stroke="#5a5a5a" stroke-width="1.1" fill="none"/>
<path d="M452.5 43.5V42.9A6.8 6.8 0 0 1 459.3 36.1H513.2A6.6 6.6 0 0 1 519.8 42.7V43.5" stroke="#5a5a5a" stroke-width="1.1" fill="none"/>
<path d="M310 222V221.1A10.4 10.4 0 0 1 320.4 210.7H433.8A10.5 10.5 0 0 1 444.3 221.2V222.6" stroke="#5a5a5a" stroke-width="1.1" fill="none"/>
<path d="M452.5 226.4V224.9A6.8 6.8 0 0 1 459.3 218.1H513.2A6.6 6.6 0 0 1 519.8 224.7V226.0" stroke="#5a5a5a" stroke-width="1.1" fill="none"/>
<text transform="translate(342.40 24.60) scale(1 1.12)" font-size="7.52" text-anchor="start" font-weight="normal" fill="#111" stroke="#111" stroke-width="0.1" >Heparin anti-coagulant</text>
<text transform="translate(486.00 23.20) scale(1 1.12)" font-size="7.5" text-anchor="middle" font-weight="normal" fill="#111" stroke="#111" stroke-width="0.1" >EDTA</text>
<text transform="translate(486.20 29.60) scale(1 1.12)" font-size="7.45" text-anchor="middle" font-weight="normal" fill="#111" stroke="#111" stroke-width="0.1" >anti-coagulant</text>
<text transform="translate(342.40 207.00) scale(1 1.12)" font-size="7.52" text-anchor="start" font-weight="normal" fill="#111" stroke="#111" stroke-width="0.1" >Heparin anti-coagulant</text>
<text transform="translate(486.00 205.50) scale(1 1.12)" font-size="7.5" text-anchor="middle" font-weight="normal" fill="#111" stroke="#111" stroke-width="0.1" >EDTA</text>
<text transform="translate(486.20 211.80) scale(1 1.12)" font-size="7.45" text-anchor="middle" font-weight="normal" fill="#111" stroke="#111" stroke-width="0.1" >anti-coagulant</text>
<path d="M89.30 37.35L89.30 33.25 M87.52 36.32L91.08 34.27 M87.52 34.27L91.08 36.32" stroke="#8a8a8a" stroke-width="0.8" fill="none"/>
<circle cx="89.30" cy="37.35" r="0.7" fill="#3a3a3a"/>
<circle cx="89.30" cy="33.25" r="0.7" fill="#3a3a3a"/>
<circle cx="87.52" cy="36.32" r="0.7" fill="#3a3a3a"/>
<circle cx="91.08" cy="34.27" r="0.7" fill="#3a3a3a"/>
<circle cx="87.52" cy="34.27" r="0.7" fill="#3a3a3a"/>
<circle cx="91.08" cy="36.32" r="0.7" fill="#3a3a3a"/>
<path d="M172.50 8.65L172.50 4.55 M170.72 7.62L174.28 5.58 M170.72 5.58L174.28 7.62" stroke="#8a8a8a" stroke-width="0.8" fill="none"/>
<circle cx="172.50" cy="8.65" r="0.7" fill="#3a3a3a"/>
<circle cx="172.50" cy="4.55" r="0.7" fill="#3a3a3a"/>
<circle cx="170.72" cy="7.62" r="0.7" fill="#3a3a3a"/>
<circle cx="174.28" cy="5.58" r="0.7" fill="#3a3a3a"/>
<circle cx="170.72" cy="5.58" r="0.7" fill="#3a3a3a"/>
<circle cx="174.28" cy="7.62" r="0.7" fill="#3a3a3a"/>
<path d="M276.50 15.65L276.50 11.55 M274.72 14.62L278.28 12.57 M274.72 12.57L278.28 14.62" stroke="#8a8a8a" stroke-width="0.8" fill="none"/>
<circle cx="276.50" cy="15.65" r="0.7" fill="#3a3a3a"/>
<circle cx="276.50" cy="11.55" r="0.7" fill="#3a3a3a"/>
<circle cx="274.72" cy="14.62" r="0.7" fill="#3a3a3a"/>
<circle cx="278.28" cy="12.57" r="0.7" fill="#3a3a3a"/>
<circle cx="274.72" cy="12.57" r="0.7" fill="#3a3a3a"/>
<circle cx="278.28" cy="14.62" r="0.7" fill="#3a3a3a"/>
<path d="M319.40 36.25L319.40 32.15 M317.62 35.23L321.18 33.18 M317.62 33.18L321.18 35.23" stroke="#8a8a8a" stroke-width="0.8" fill="none"/>
<circle cx="319.40" cy="36.25" r="0.7" fill="#3a3a3a"/>
<circle cx="319.40" cy="32.15" r="0.7" fill="#3a3a3a"/>
<circle cx="317.62" cy="35.23" r="0.7" fill="#3a3a3a"/>
<circle cx="321.18" cy="33.18" r="0.7" fill="#3a3a3a"/>
<circle cx="317.62" cy="33.18" r="0.7" fill="#3a3a3a"/>
<circle cx="321.18" cy="35.23" r="0.7" fill="#3a3a3a"/>
<path d="M341.40 51.75L341.40 47.65 M339.62 50.73L343.18 48.68 M339.62 48.68L343.18 50.73" stroke="#8a8a8a" stroke-width="0.8" fill="none"/>
<circle cx="341.40" cy="51.75" r="0.7" fill="#3a3a3a"/>
<circle cx="341.40" cy="47.65" r="0.7" fill="#3a3a3a"/>
<circle cx="339.62" cy="50.73" r="0.7" fill="#3a3a3a"/>
<circle cx="343.18" cy="48.68" r="0.7" fill="#3a3a3a"/>
<circle cx="339.62" cy="48.68" r="0.7" fill="#3a3a3a"/>
<circle cx="343.18" cy="50.73" r="0.7" fill="#3a3a3a"/>
<path d="M465.30 44.45L465.30 40.35 M463.52 43.42L467.08 41.38 M463.52 41.38L467.08 43.42" stroke="#8a8a8a" stroke-width="0.8" fill="none"/>
<circle cx="465.30" cy="44.45" r="0.7" fill="#3a3a3a"/>
<circle cx="465.30" cy="40.35" r="0.7" fill="#3a3a3a"/>
<circle cx="463.52" cy="43.42" r="0.7" fill="#3a3a3a"/>
<circle cx="467.08" cy="41.38" r="0.7" fill="#3a3a3a"/>
<circle cx="463.52" cy="41.38" r="0.7" fill="#3a3a3a"/>
<circle cx="467.08" cy="43.42" r="0.7" fill="#3a3a3a"/>
<path d="M319.10 242.70H320.30V244.70H322.20V245.90H320.30L319.95 252.70H319.45L319.10 245.90H317.20V244.70H319.10Z" fill="url(#dg)"/>
<path d="M344.30 214.00H345.50V216.00H347.40V217.20H345.50L345.15 224.00H344.65L344.30 217.20H342.40V216.00H344.30Z" fill="url(#dg)"/>
<path d="M403.10 257.10H404.30V259.10H406.20V260.30H404.30L403.95 267.10H403.45L403.10 260.30H401.20V259.10H403.10Z" fill="url(#dg)"/>
</svg>
</body></html>
